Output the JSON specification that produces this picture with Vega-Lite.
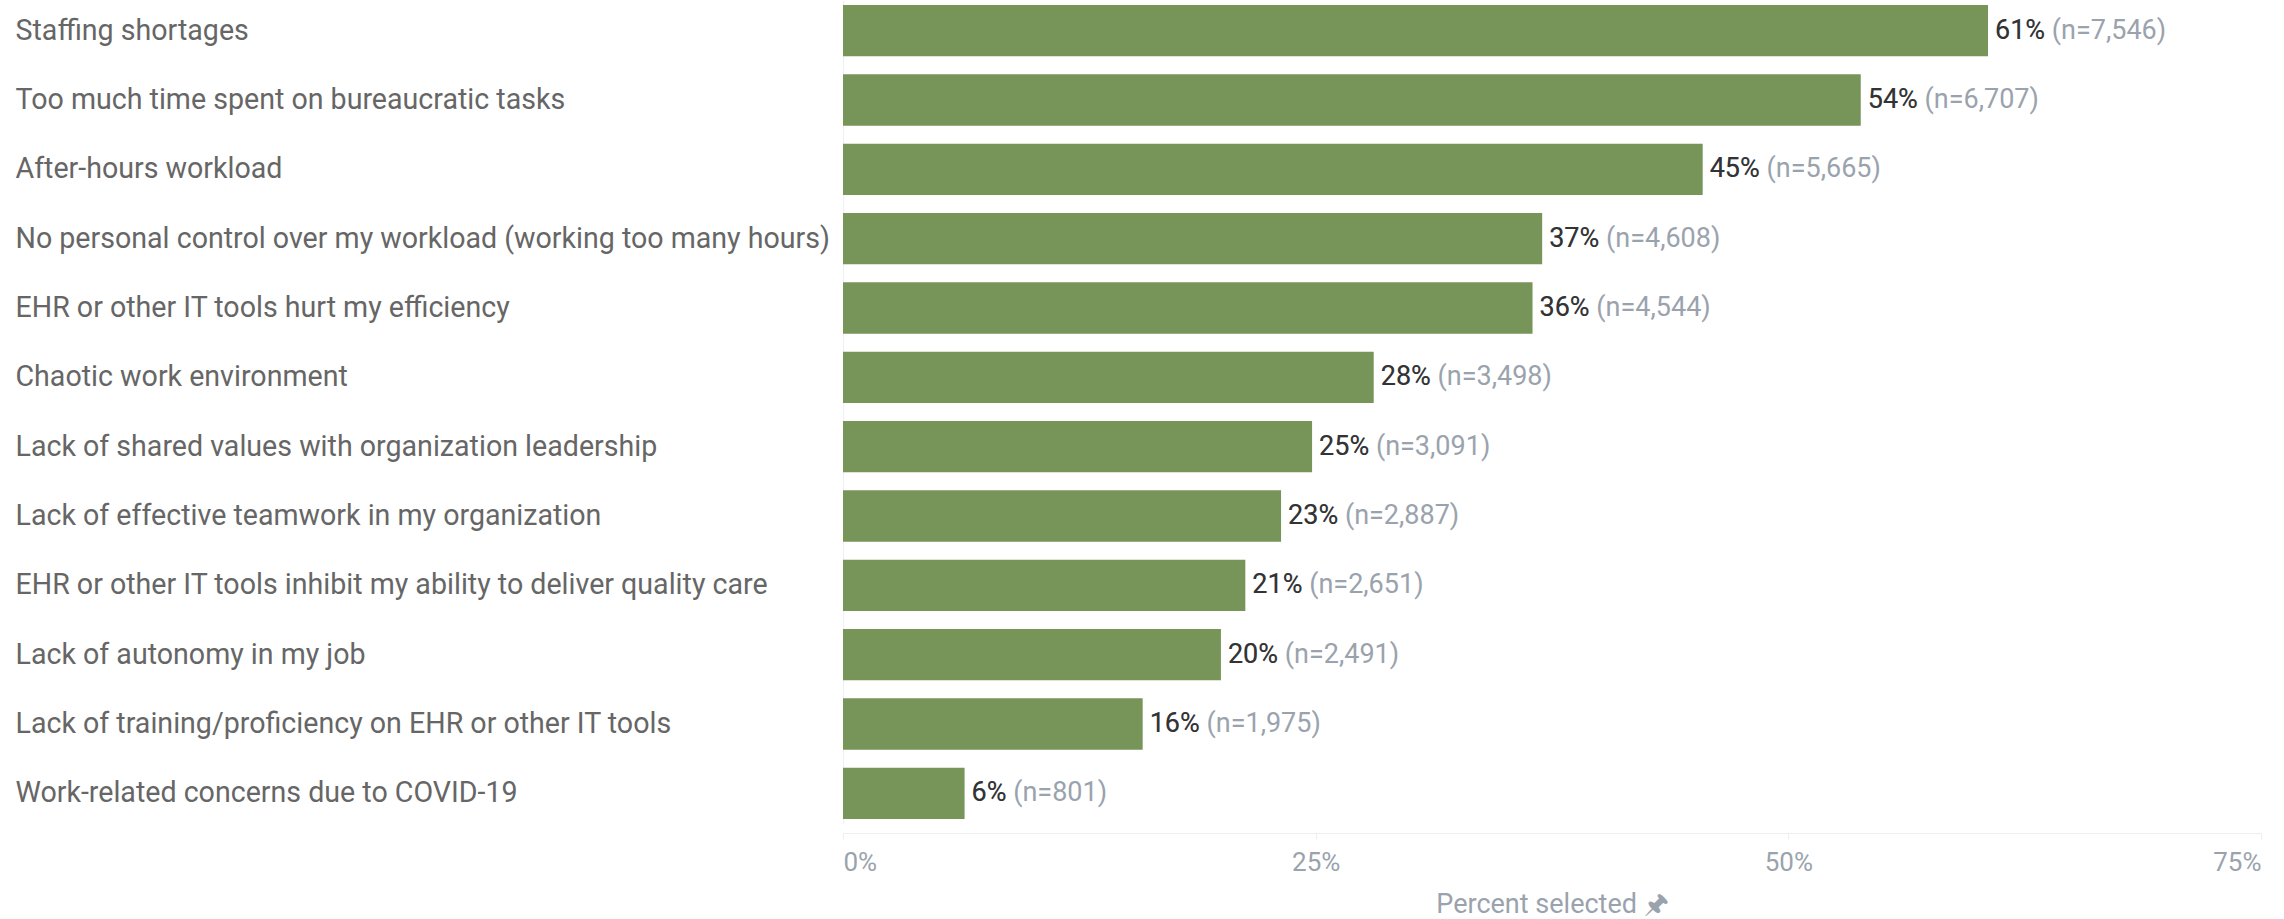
{
  "$schema": "https://vega.github.io/schema/vega-lite/v6.json",
  "width": 1418,
  "height": 824,
  "autosize": {"type": "none"},
  "padding": {"left": 843, "top": 0, "right": 23, "bottom": 95},
  "background": "white",
  "config": {"view": {"stroke": null}, "font": "Roboto"},
  "data": {
    "values": [
      {"reason": "Staffing shortages", "pct": 60.56, "label": "61%", "full": "61% (n=7,546)"},
      {"reason": "Too much time spent on bureaucratic tasks", "pct": 53.83, "label": "54%", "full": "54% (n=6,707)"},
      {"reason": "After-hours workload", "pct": 45.47, "label": "45%", "full": "45% (n=5,665)"},
      {"reason": "No personal control over my workload (working too many hours)", "pct": 36.98, "label": "37%", "full": "37% (n=4,608)"},
      {"reason": "EHR or other IT tools hurt my efficiency", "pct": 36.47, "label": "36%", "full": "36% (n=4,544)"},
      {"reason": "Chaotic work environment", "pct": 28.07, "label": "28%", "full": "28% (n=3,498)"},
      {"reason": "Lack of shared values with organization leadership", "pct": 24.81, "label": "25%", "full": "25% (n=3,091)"},
      {"reason": "Lack of effective teamwork in my organization", "pct": 23.17, "label": "23%", "full": "23% (n=2,887)"},
      {"reason": "EHR or other IT tools inhibit my ability to deliver quality care", "pct": 21.28, "label": "21%", "full": "21% (n=2,651)"},
      {"reason": "Lack of autonomy in my job", "pct": 19.99, "label": "20%", "full": "20% (n=2,491)"},
      {"reason": "Lack of training/proficiency on EHR or other IT tools", "pct": 15.85, "label": "16%", "full": "16% (n=1,975)"},
      {"reason": "Work-related concerns due to COVID-19", "pct": 6.43, "label": "6%", "full": "6% (n=801)"}
    ]
  },
  "encoding": {
    "y": {
      "field": "reason",
      "type": "nominal",
      "sort": null,
      "scale": {"paddingInner": 0.26, "paddingOuter": 0.072},
      "axis": {
        "title": null,
        "labelAlign": "left",
        "labelPadding": 828,
        "labelFontSize": 28.6,
        "labelColor": "#666666",
        "labelLimit": 1000,
        "ticks": false,
        "domain": true,
        "domainColor": "#f0f0f0",
        "grid": false
      }
    },
    "x": {
      "field": "pct",
      "type": "quantitative",
      "scale": {"domain": [0, 75]},
      "axis": {
        "offset": 9,
        "grid": false,
        "domainColor": "#eeeeee",
        "tickColor": "#eeeeee",
        "tickSize": 6,
        "values": [0, 25, 50, 75],
        "labelExpr": "datum.value + '%'",
        "labelFlush": true,
        "labelFontSize": 26,
        "labelColor": "#9aa3ad",
        "labelPadding": 10,
        "title": "Percent selected 🖈",
        "titleFontSize": 27,
        "titleFontWeight": "normal",
        "titleColor": "#9aa3ad",
        "titlePadding": 16
      }
    }
  },
  "layer": [
    {"mark": {"type": "bar", "color": "#779459"}},
    {"mark": {"type": "text", "align": "left", "baseline": "middle", "dx": 7, "fontSize": 27, "color": "#9aa3ad"}, "encoding": {"text": {"field": "full"}}},
    {"mark": {"type": "text", "align": "left", "baseline": "middle", "dx": 7, "fontSize": 27, "color": "#333333"}, "encoding": {"text": {"field": "label"}}}
  ]
}
